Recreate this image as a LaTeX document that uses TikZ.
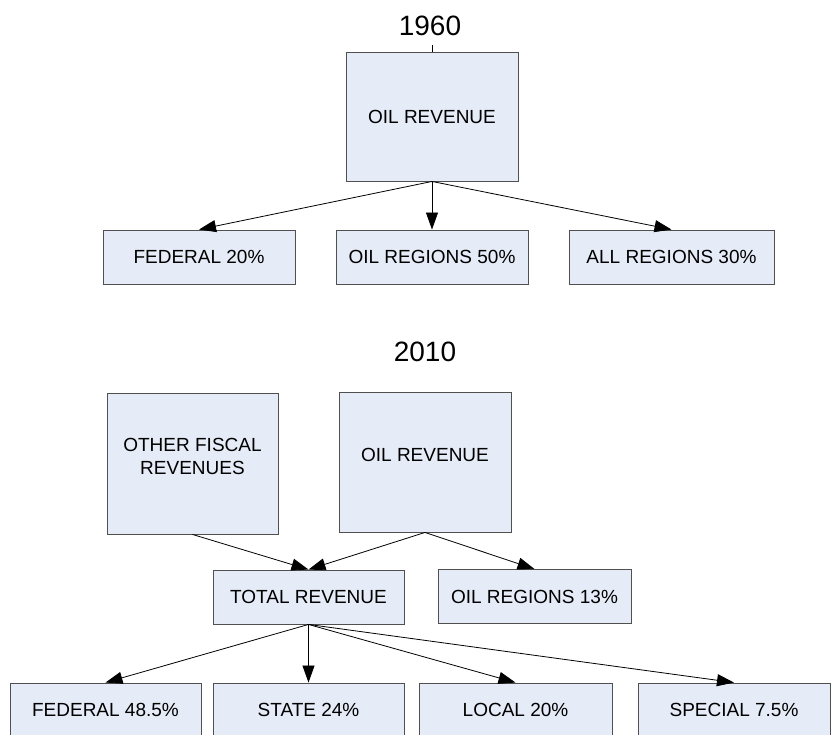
\documentclass[tikz,border=0pt]{standalone}
\usepackage{fontspec}
\setmainfont{Liberation Sans}
\usetikzlibrary{arrows.meta}
\definecolor{boxfill}{HTML}{E6ECF7}
\definecolor{boxline}{HTML}{505050}

\begin{document}
\begin{tikzpicture}[x=1pt,y=-1pt,
  box/.style={draw=boxline, fill=boxfill, line width=0.9pt, inner sep=0pt,
    font=\fontsize{19}{23}\selectfont, minimum width=192pt, minimum height=54pt},
  bigbox/.style={box, minimum width=172pt, minimum height=140pt},
  year/.style={inner xsep=0pt, inner ysep=9pt, font=\fontsize{28}{32}\selectfont},
  link/.style={-{Triangle[length=17pt,width=12pt]}, line width=0.8pt}]
  \useasboundingbox (0,0) rectangle (831,735);

  % 1960
  \node[year] (y1960) at (430,26) {1960};
  \node[bigbox, minimum height=129pt] (oilA) at (432,116.5) {OIL REVENUE};
  \node[box] (fedA) at (199,257) {FEDERAL 20\%};
  \node[box] (regA) at (432,257) {OIL REGIONS 50\%};
  \node[box, minimum width=205pt] (allA) at (671.5,257) {ALL REGIONS 30\%};
  \draw[line width=0.8pt] (oilA.north) -- (oilA.north |- y1960.south);
  \foreach \to in {fedA,regA,allA}
    \draw[link] (oilA.south) -- (\to.north);

  % 2010
  \node[year] (y2010) at (425,352) {2010};
  \node[bigbox, minimum width=171pt, minimum height=141pt, text depth=14pt, align=center]
    (other) at (192.5,463.5) {OTHER FISCAL\\REVENUES};
  \node[bigbox, text depth=14pt] (oilB) at (425,462) {OIL REVENUE};
  \node[box, minimum width=191pt] (total) at (308.5,597) {TOTAL REVENUE};
  \node[box, minimum width=193pt] (regB) at (534.5,596.5) {OIL REGIONS 13\%};
  \node[box, minimum width=191pt] (fedB) at (105.5,710) {FEDERAL 48.5\%};
  \node[box, minimum width=191pt] (state) at (308.5,710) {STATE 24\%};
  \node[box, minimum width=193pt] (local) at (515.5,710) {LOCAL 20\%};
  \node[box] (special) at (734,710) {SPECIAL 7.5\%};
  \draw[link] (other.south) -- (total.north);
  \draw[link] (oilB.south) -- (total.north);
  \draw[link] (oilB.south) -- (regB.north);
  \foreach \to in {fedB,state,local,special}
    \draw[link] (total.south) -- (\to.north);
\end{tikzpicture}
\end{document}
